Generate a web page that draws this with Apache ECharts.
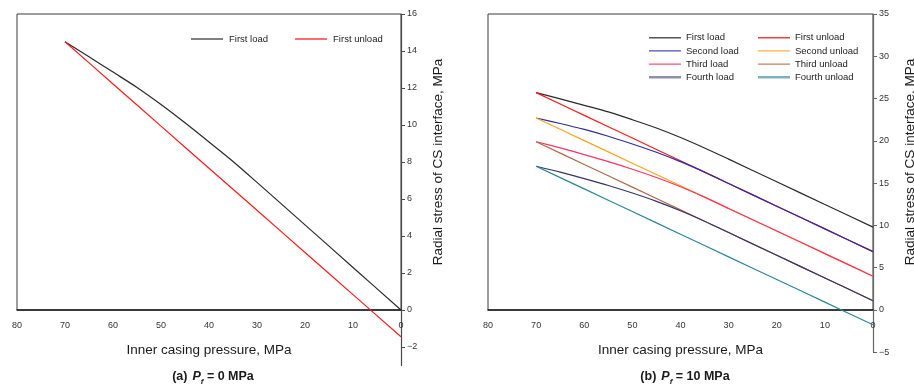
<!DOCTYPE html>
<html>
<head>
<meta charset="utf-8">
<script src="https://cdn.jsdelivr.net/npm/echarts@6/dist/echarts.min.js"></script>
<style>
html,body{margin:0;padding:0;background:#fff;}
#c{width:914px;height:384px;}
</style>
</head>
<body>
<div id="c"></div>
<script>
// ---------- data ----------
const xTicks = [80, 70, 60, 50, 40, 30, 20, 10, 0];
const yTicksA = [-2, 0, 2, 4, 6, 8, 10, 12, 14, 16];
const yTicksB = [-5, 0, 5, 10, 15, 20, 25, 30, 35];

const xLoad = [0, 10, 20, 30, 35, 40, 45, 50, 55, 60, 65, 70];
const xUnload = [70, 60, 50, 40, 30, 20, 10, 0];

// (a) Pf = 0 MPa
const aFirstLoad   = [0, 2.3, 4.6, 6.9, 8.03, 9.08, 10.12, 11.11, 12.03, 12.86, 13.69, 14.5];
const aFirstUnload = [14.5, 12.22, 9.94, 7.66, 5.39, 3.11, 0.83, -1.45];

// (b) Pf = 10 MPa
const bFirstLoad    = [9.8, 12.48, 15.16, 17.84, 19.16, 20.4, 21.52, 22.5, 23.42, 24.2, 24.97, 25.7];
const bFirstUnload  = [25.7, 23.01, 20.33, 17.64, 14.96, 12.27, 9.59, 6.9];
const bSecondLoad   = [6.9, 9.59, 12.27, 14.96, 16.3, 17.54, 18.65, 19.63, 20.55, 21.35, 22.05, 22.7];
const bSecondUnload = [22.7, 20.03, 17.36, 14.69, 12.01, 9.34, 6.67, 4.0];
const bThirdLoad    = [4.0, 6.67, 9.34, 12.01, 13.35, 14.58, 15.67, 16.65, 17.55, 18.38, 19.17, 19.9];
const bThirdUnload  = [19.9, 17.21, 14.53, 11.84, 9.16, 6.47, 3.79, 1.1];
const bFourthLoad   = [1.1, 3.79, 6.47, 9.16, 10.5, 11.74, 12.85, 13.83, 14.72, 15.53, 16.3, 17.0];
const bFourthUnload = [17.0, 14.32, 11.64, 8.96, 6.28, 3.61, 0.93, -1.75];

const namesLoad = ['First load', 'Second load', 'Third load', 'Fourth load'];
const namesUnload = ['First unload', 'Second unload', 'Third unload', 'Fourth unload'];

// ---------- helpers ----------
const FONT = 'Liberation Sans, Arial, Helvetica, sans-serif';
const zip = (xs, ys) => xs.map((x, i) => [x, ys[i]]);
const fmt = v => (v < 0 ? '\u2212' + Math.abs(v) : String(v));

const colors = {
  'First load': '#2a2a2a', 'First unload': '#ff1a1a',
  'Second load': '#2b2ba6', 'Second unload': '#ffa41c',
  'Third load': '#ff3366', 'Third unload': '#b0694a',
  'Fourth load': '#34346c', 'Fourth unload': '#2a8796'
};
const legendColors = {
  'First load': '#555555', 'First unload': '#ff3b3b',
  'Second load': '#4d4dc0', 'Second unload': '#ffb04a',
  'Third load': '#ff4f7a', 'Third unload': '#b98566',
  'Fourth load': '#8e90ae', 'Fourth unload': '#7fb2bd'
};
// icon: thin bar centred in a 13px tall box (invisible slivers define the box)
const ICON_THIN = 'path://M0,0h32v0.01h-32z M0,5.8h32v1.4h-32z M0,12.99h32v0.01h-32z';
const ICON_THICK = 'path://M0,0h32v0.01h-32z M0,5.3h32v2.4h-32z M0,12.99h32v0.01h-32z';

function line(name, x, y, xi, yi) {
  return {
    name: name, type: 'line', xAxisIndex: xi, yAxisIndex: yi,
    data: zip(x, y), symbol: 'none', showSymbol: false, smooth: 0.3,
    lineStyle: { color: colors[name], width: 1.2 },
    itemStyle: { color: colors[name] },
    emphasis: { disabled: true }, animation: false
  };
}

// visible x axis: sits on the bottom of the frame grid (value 0 of y)
function shownX(gi) {
  return {
    gridIndex: gi, type: 'value', min: 0, max: 80, interval: 10, inverse: true, position: 'bottom',
    axisLine: { onZero: false, lineStyle: { color: '#1a1a1a', width: 1.5 } },
    axisTick: { show: false },
    axisLabel: { fontSize: 9, color: '#333', margin: 11, fontFamily: FONT, showMinLabel: true, showMaxLabel: true },
    splitLine: { show: false },
    name: 'Inner casing pressure, MPa', nameLocation: 'middle', nameGap: 33,
    nameTextStyle: { fontSize: 13.5, color: '#1a1a1a', fontFamily: FONT }
  };
}
function hiddenX(gi) {
  return {
    gridIndex: gi, type: 'value', min: 0, max: 80, inverse: true,
    axisLine: { show: false }, axisTick: { show: false }, axisLabel: { show: false }, splitLine: { show: false }
  };
}
function frameY(gi, max, gap) {
  return {
    gridIndex: gi, type: 'value', min: 0, max: max, position: 'right',
    axisLine: { show: false }, axisTick: { show: false }, axisLabel: { show: false }, splitLine: { show: false },
    name: 'Radial stress of CS interface, MPa', nameLocation: 'middle', nameGap: gap, nameRotate: 90,
    nameTextStyle: { fontSize: 13.5, color: '#1a1a1a', fontFamily: FONT }
  };
}
function legendData(names) {
  return names.map(n => ({
    name: n,
    icon: n.indexOf('Fourth') === 0 ? ICON_THICK : ICON_THIN,
    itemStyle: { color: legendColors[n], borderWidth: 0 }
  }));
}
function subTitle(cx, label, val) {
  const base = { color: '#1a1a1a', fontFamily: FONT, lineHeight: 15 };
  return {
    left: cx, top: 363, textAlign: 'center',
    text: '{b|' + label + '} {i|P}{s|f}{n| = ' + val + ' MPa}',
    textStyle: {
      rich: {
        b: Object.assign({ fontSize: 12.5, fontWeight: 'bold' }, base),
        i: Object.assign({ fontSize: 12.5, fontStyle: 'italic' }, base),
        s: Object.assign({}, base, { fontSize: 8, fontStyle: 'italic', lineHeight: 8, verticalAlign: 'bottom' }),
        n: Object.assign({ fontSize: 12.5 }, base)
      }
    }
  };
}

const legendText = { fontSize: 9.5, color: '#222', fontFamily: FONT, lineHeight: 13 };

const option = {
  animation: false,
  backgroundColor: '#ffffff',
  textStyle: { fontFamily: FONT },
  title: [subTitle(208, '(a)', '0'), subTitle(680, '(b)', '10')],
  legend: [
    {
      left: 186, top: 27.5, orient: 'horizontal', itemWidth: 34, itemHeight: 13, itemGap: 27,
      data: legendData(['First load', 'First unload']),
      textStyle: legendText, selectedMode: false
    },
    {
      left: 644, top: 26.2, orient: 'vertical', itemWidth: 32, itemHeight: 13, itemGap: 0.2,
      data: legendData(namesLoad), textStyle: legendText, selectedMode: false
    },
    {
      left: 753, top: 26.2, orient: 'vertical', itemWidth: 32, itemHeight: 13, itemGap: 0.2,
      data: legendData(namesUnload), textStyle: legendText, selectedMode: false
    }
  ],
  grid: [
    { left: 17, top: 14, width: 384, height: 351.5, show: false, containLabel: false, outerBoundsMode: 'none' },
    { left: 17, top: 14, width: 384, height: 296, show: true, borderColor: '#3a3a3a', borderWidth: 1, backgroundColor: 'transparent', containLabel: false, outerBoundsMode: 'none' },
    { left: 488, top: 14, width: 385, height: 338.3, show: false, containLabel: false, outerBoundsMode: 'none' },
    { left: 488, top: 14, width: 385, height: 296, show: true, borderColor: '#3a3a3a', borderWidth: 1, backgroundColor: 'transparent', containLabel: false, outerBoundsMode: 'none' }
  ],
  xAxis: [hiddenX(0), shownX(1), hiddenX(2), shownX(3)],
  yAxis: [
    {
      gridIndex: 0, type: 'value', min: -3, max: 16, position: 'right',
      axisLine: { onZero: false, lineStyle: { color: '#4a4a4a', width: 1.2 } },
      axisTick: { show: true, length: 4, customValues: yTicksA, lineStyle: { color: '#4a4a4a' } },
      axisLabel: { customValues: yTicksA, formatter: fmt, fontSize: 9, color: '#333', margin: 6, fontFamily: FONT },
      splitLine: { show: false }
    },
    frameY(1, 16, 30),
    {
      gridIndex: 2, type: 'value', min: -5, max: 35, interval: 5, position: 'right',
      axisLine: { onZero: false, lineStyle: { color: '#666', width: 1.2 } },
      axisTick: { show: true, length: 4, customValues: yTicksB, lineStyle: { color: '#666' } },
      axisLabel: { customValues: yTicksB, formatter: fmt, fontSize: 9, color: '#333', margin: 6, fontFamily: FONT },
      splitLine: { show: false }
    },
    frameY(3, 35, 30)
  ],
  series: [
    line('First load', xLoad, aFirstLoad, 0, 0),
    line('First unload', xUnload, aFirstUnload, 0, 0),
    line('First load', xLoad, bFirstLoad, 2, 2),
    line('First unload', xUnload, bFirstUnload, 2, 2),
    line('Second load', xLoad, bSecondLoad, 2, 2),
    line('Second unload', xUnload, bSecondUnload, 2, 2),
    line('Third load', xLoad, bThirdLoad, 2, 2),
    line('Third unload', xUnload, bThirdUnload, 2, 2),
    line('Fourth load', xLoad, bFourthLoad, 2, 2),
    line('Fourth unload', xUnload, bFourthUnload, 2, 2)
  ]
};

const chart = echarts.init(document.getElementById('c'), null, { renderer: 'canvas' });
chart.setOption(option);
</script>
</body>
</html>
